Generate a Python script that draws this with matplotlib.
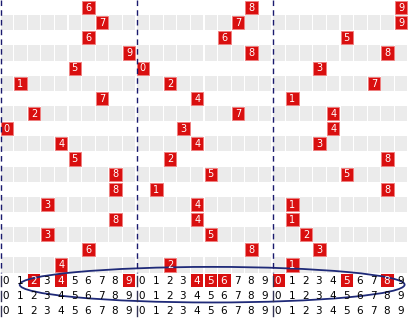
import matplotlib.pyplot as plt
from matplotlib.patches import Rectangle, Ellipse

# digit drawn in each row, one list per position (hundreds / tens / units)
sec1 = [6, 7, 6, 9, 5, 1, 7, 2, 0, 4, 5, 8, 8, 3, 8, 3, 6, 4]
sec2 = [8, 7, 6, 8, 0, 2, 4, 7, 3, 4, 2, 5, 1, 4, 4, 5, 8, 2]
sec3 = [9, 9, 5, 8, 3, 7, 1, 4, 4, 3, 8, 5, 8, 1, 1, 2, 3, 1]
sections = [sec1, sec2, sec3]

# digits picked in the first selection row under the chart
picked = [[2, 4, 9], [4, 5, 6], [0, 5, 8]]
digits = list(range(10))

n_rows = len(sec1)
n_extra = 3
total_rows = n_rows + n_extra

fig = plt.figure(figsize=(4.08, 3.18), dpi=100)
ax = fig.add_axes([0, 0, 1, 1])
ax.set_xlim(0, 30)
ax.set_ylim(total_rows, 0)
ax.axis("off")

red = "#d90f0f"
gray = "#ebebeb"

# striped background
for r in range(n_rows):
    if r % 2 == 1:
        for c in range(30):
            ax.add_patch(Rectangle((c + 0.04, r), 0.92, 1, color=gray, lw=0))

# number squares
for s, vals in enumerate(sections):
    for r, v in enumerate(vals):
        x = s * 10 + v
        ax.add_patch(Rectangle((x + 0.05, r + 0.07), 0.9, 0.86,
                               facecolor=red, edgecolor="#f08080", lw=0.6))
        ax.text(x + 0.5, r + 0.52, str(v), color="white", fontsize=7,
                ha="center", va="center")

# selection rows
for k in range(n_extra):
    y = n_rows + k
    for s in range(3):
        for d in digits:
            x = s * 10 + d
            hl = k == 0 and d in picked[s]
            if hl:
                ax.add_patch(Rectangle((x + 0.05, y + 0.07), 0.9, 0.86,
                                       color=red, lw=0))
            ax.text(x + 0.45, y + 0.55, str(d),
                    color="white" if hl else "black", fontsize=7.5,
                    ha="center", va="center")
        ax.plot([s * 10 + 0.08, s * 10 + 0.08], [y + 0.2, y + 0.9],
                color="#333355", lw=1)

# section separators
for s in range(3):
    ax.plot([s * 10 + 0.08, s * 10 + 0.08], [0, n_rows], color="#1a1a6e",
            lw=1, linestyle=(0, (4, 3)))

ax.add_patch(Ellipse((15.6, 18.8), 28.3, 2.35, fill=False,
                     edgecolor="#1f2a78", lw=1.3))

fig.savefig("out.png", dpi=100)
